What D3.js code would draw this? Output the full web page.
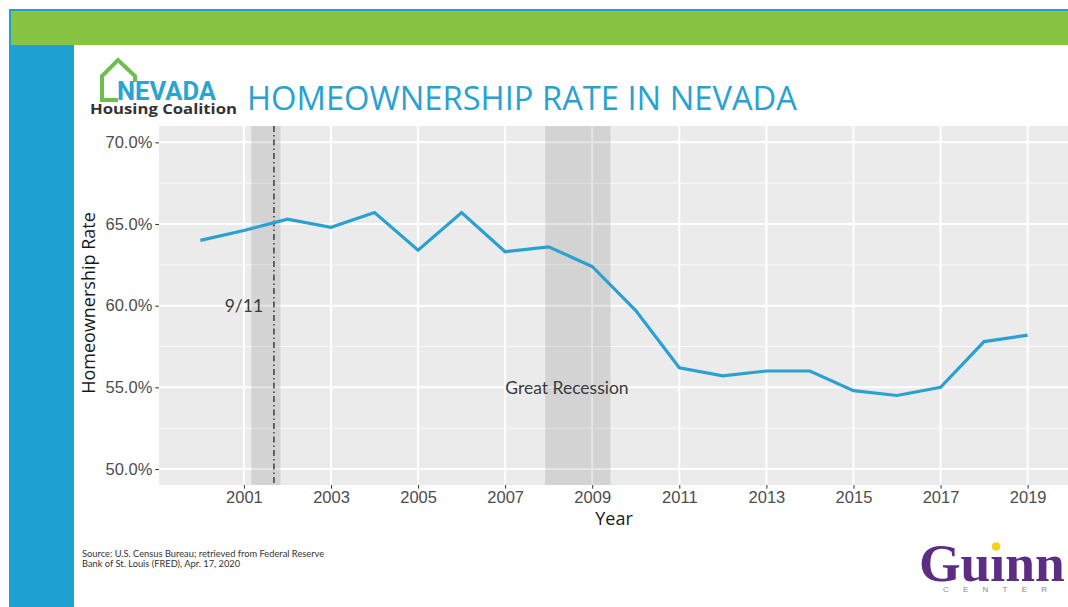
<!DOCTYPE html>
<html lang="en">

<head>
    <title>Homeownership Rate in Nevada</title>
    <meta charset="UTF-8">
    <script src="https://cdn.jsdelivr.net/npm/d3@7"></script>
    <style>
        body {
            margin: 0;
            background: #fff;
        }

        svg {
            display: block;
        }
    </style>
</head>

<body>
    <div id="chart"></div>

    <script>
        // chart data
        const years = [2000, 2001, 2002, 2003, 2004, 2005, 2006, 2007, 2008, 2009,
            2010, 2011, 2012, 2013, 2014, 2015, 2016, 2017, 2018, 2019];
        const rates = [64.0, 64.6, 65.3, 64.8, 65.7, 63.4, 65.7, 63.3, 63.6, 62.4,
            59.7, 56.2, 55.7, 56.0, 56.0, 54.8, 54.5, 55.0, 57.8, 58.2];

        const xTicks = [2001, 2003, 2005, 2007, 2009, 2011, 2013, 2015, 2017, 2019];
        const yTicks = [50, 55, 60, 65, 70];
        const yMinorTicks = [52.5, 57.5, 62.5, 67.5];

        // shaded periods (start, end in fractional years) and event marker
        const shadedStarts = [2001.17, 2007.92];
        const shadedEnds = [2001.84, 2009.42];
        const eventYear = 2001.69;

        const noteLabels = ["9/11", "Great Recession"];
        const noteYears = [2001, 2008.42];
        const noteValues = [60, 55];

        const width = 1068, height = 607;
        const panel = { left: 159, right: 1069, top: 126, bottom: 485 };

        const svg = d3.select("#chart")
            .append("svg")
            .attr("width", width)
            .attr("height", height);

        // slide frame
        svg.append("rect")
            .attr("x", 9).attr("y", 9)
            .attr("width", width - 9).attr("height", height - 9)
            .attr("fill", "#1ea1d0");
        svg.append("rect")
            .attr("x", 11).attr("y", 11)
            .attr("width", width - 11).attr("height", 34)
            .attr("fill", "#88c444");
        svg.append("rect")
            .attr("x", 74).attr("y", 45)
            .attr("width", width - 74).attr("height", height - 45)
            .attr("fill", "#fff");

        // Nevada Housing Coalition logo
        svg.append("path")
            .attr("d", "M118,100 L102,100 L102,76 L118,60 L135,76 L135,82")
            .attr("fill", "none")
            .attr("stroke", "#6cbf4c")
            .attr("stroke-width", 4)
            .attr("stroke-linejoin", "miter");
        svg.append("text")
            .attr("x", 117).attr("y", 100)
            .attr("font-family", "Roboto, 'Liberation Sans', sans-serif")
            .attr("font-weight", "bold")
            .attr("font-size", 25)
            .attr("textLength", 99)
            .attr("lengthAdjust", "spacingAndGlyphs")
            .attr("fill", "#2aa5d2")
            .text("NEVADA");
        svg.append("text")
            .attr("x", 90).attr("y", 114)
            .attr("font-family", "'Open Sans', sans-serif")
            .attr("font-weight", "bold")
            .attr("font-size", 15)
            .attr("textLength", 147)
            .attr("lengthAdjust", "spacingAndGlyphs")
            .attr("fill", "#333")
            .text("Housing Coalition");

        // title
        svg.append("text")
            .attr("x", 247).attr("y", 110)
            .attr("font-family", "'Open Sans', sans-serif")
            .attr("font-size", 32.7)
            .attr("fill", "#29a2d2")
            .text("HOMEOWNERSHIP RATE IN NEVADA");

        const x = d3.scaleLinear()
            .domain([1999.05, 2019.95])
            .range([panel.left, panel.right]);

        const y = d3.scaleLinear()
            .domain([49.02, 71.0])
            .range([panel.bottom, panel.top]);

        // panel background and grid
        svg.append("rect")
            .attr("x", panel.left).attr("y", panel.top)
            .attr("width", panel.right - panel.left)
            .attr("height", panel.bottom - panel.top)
            .attr("fill", "#ebebeb");

        svg.append("g")
            .selectAll("line")
            .data(yMinorTicks)
            .join("line")
            .attr("x1", panel.left).attr("x2", panel.right)
            .attr("y1", d => y(d)).attr("y2", d => y(d))
            .attr("stroke", "#fafafa")
            .attr("stroke-width", 1);

        svg.append("g")
            .selectAll("line")
            .data(yTicks)
            .join("line")
            .attr("x1", panel.left).attr("x2", panel.right)
            .attr("y1", d => y(d)).attr("y2", d => y(d))
            .attr("stroke", "#fff")
            .attr("stroke-width", 2);

        svg.append("g")
            .selectAll("line")
            .data(xTicks)
            .join("line")
            .attr("x1", d => x(d)).attr("x2", d => x(d))
            .attr("y1", panel.top).attr("y2", panel.bottom)
            .attr("stroke", "#fff")
            .attr("stroke-width", 2);

        // shaded periods
        svg.append("g")
            .selectAll("rect")
            .data(shadedStarts)
            .join("rect")
            .attr("x", d => x(d))
            .attr("y", panel.top)
            .attr("width", (d, i) => x(shadedEnds[i]) - x(d))
            .attr("height", panel.bottom - panel.top)
            .attr("fill", "#000")
            .attr("fill-opacity", 0.1);

        svg.append("line")
            .attr("x1", x(eventYear)).attr("x2", x(eventYear))
            .attr("y1", panel.top).attr("y2", panel.bottom)
            .attr("stroke", "#333")
            .attr("stroke-width", 1.4)
            .attr("stroke-dasharray", "6,3,1.5,3");

        // data line
        const line = d3.line()
            .x((d, i) => x(years[i]))
            .y(d => y(d));

        svg.append("path")
            .datum(rates)
            .attr("d", line)
            .attr("fill", "none")
            .attr("stroke", "#2ba1d1")
            .attr("stroke-width", 3.2);

        // annotations
        svg.append("g")
            .selectAll("text")
            .data(noteLabels)
            .join("text")
            .attr("x", (d, i) => x(noteYears[i]))
            .attr("y", (d, i) => y(noteValues[i]))
            .attr("text-anchor", "middle")
            .attr("dominant-baseline", "central")
            .attr("font-family", "Lato, sans-serif")
            .attr("font-size", 17.5)
            .attr("fill", "#3a3a3a")
            .text(d => d);

        // axes
        const axisFont = "'Liberation Sans', Arial, sans-serif";

        const yAxis = svg.append("g")
            .attr("transform", `translate(${panel.left},0)`)
            .call(d3.axisLeft(y).tickValues(yTicks).tickSize(3.7).tickPadding(3)
                .tickFormat(d => d.toFixed(1) + "%"));
        yAxis.select(".domain").remove();

        const xAxis = svg.append("g")
            .attr("transform", `translate(0,${panel.bottom})`)
            .call(d3.axisBottom(x).tickValues(xTicks).tickSize(3.7).tickPadding(3)
                .tickFormat(d3.format("d")));
        xAxis.select(".domain").remove();

        svg.selectAll(".tick line").attr("stroke", "#333");
        svg.selectAll(".tick text")
            .attr("font-family", axisFont)
            .attr("font-size", 16.5)
            .attr("fill", "#4d4d4d");

        svg.append("text")
            .attr("text-anchor", "middle")
            .attr("x", 614)
            .attr("y", 525)
            .attr("font-family", "'Open Sans', sans-serif")
            .attr("font-size", 18)
            .attr("fill", "#1a1a1a")
            .text("Year");

        svg.append("text")
            .attr("text-anchor", "middle")
            .attr("transform", "rotate(-90)")
            .attr("x", -(213 + 393) / 2)
            .attr("y", 95)
            .attr("font-family", "'Open Sans', sans-serif")
            .attr("font-size", 18)
            .attr("fill", "#1a1a1a")
            .text("Homeownership Rate");

        // source note
        const source = svg.append("text")
            .attr("font-family", "Lato, sans-serif")
            .attr("font-size", 9.3)
            .attr("fill", "#333");
        source.append("tspan").attr("x", 82).attr("y", 557)
            .text("Source: U.S. Census Bureau; retrieved from Federal Reserve");
        source.append("tspan").attr("x", 82).attr("y", 567)
            .text("Bank of St. Louis (FRED), Apr. 17, 2020");

        // Guinn Center logo
        svg.append("text")
            .attr("x", 919).attr("y", 581)
            .attr("font-family", "'Liberation Serif', serif")
            .attr("font-weight", "bold")
            .attr("font-size", 53.5)
            .attr("fill", "#5c2d83")
            .text("Guinn");
        // hide the letter's own dot, the logo uses a yellow one
        svg.append("rect")
            .attr("x", 988).attr("y", 536)
            .attr("width", 16).attr("height", 18)
            .attr("fill", "#fff");
        svg.append("circle")
            .attr("cx", 996).attr("cy", 546.5).attr("r", 4.3)
            .attr("fill", "#f3d21c");
        svg.append("text")
            .attr("x", 943).attr("y", 592)
            .attr("font-family", "'Liberation Sans', sans-serif")
            .attr("font-size", 8)
            .attr("textLength", 104)
            .attr("lengthAdjust", "spacing")
            .attr("fill", "#888")
            .text("CENTER");
    </script>
</body>

</html>
